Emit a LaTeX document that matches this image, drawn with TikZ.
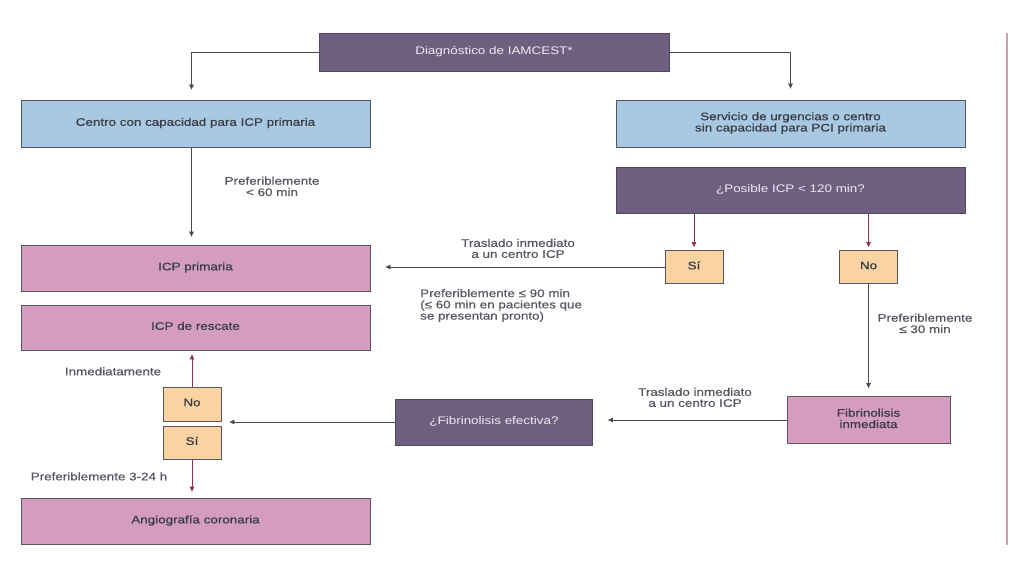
\documentclass[tikz,border=0pt]{standalone}
\usepackage{fontspec}
\setmainfont{Liberation Sans}
\newfontfamily\bfk[FakeBold=0.6]{Liberation Sans}
\usepackage{graphicx}
\usetikzlibrary{arrows.meta,calc}
\definecolor{purp}{HTML}{6E5F80}
\definecolor{lblue}{HTML}{A9C9E2}
\definecolor{pinkb}{HTML}{D49CBE}
\definecolor{beige}{HTML}{F9D3A2}
\definecolor{bord}{HTML}{5A5560}
\definecolor{txt}{HTML}{3A3D48}
\definecolor{redl}{HTML}{8E3358}
\definecolor{connc}{HTML}{4A4A4A}
\definecolor{vlinec}{HTML}{C9A3AB}
\newcommand{\wt}[1]{\scalebox{1.22}[1]{\begin{tabular}{@{}c@{}}#1\end{tabular}}}
\newcommand{\wl}[1]{\scalebox{1.22}[1]{\begin{tabular}{@{}l@{}}#1\end{tabular}}}
\tikzset{
  basebox/.style={draw=bord, line width=0.8pt, inner sep=0pt, font=\bfk\fontsize{11}{11}\selectfont, text=txt},
  pbox/.style={basebox, fill=purp, draw=purp!75!black, text=white!88!purp, font=\rmfamily\fontsize{11}{11}\selectfont},
  bbox/.style={basebox, fill=lblue},
  kbox/.style={basebox, fill=pinkb},
  ybox/.style={basebox, fill=beige, minimum width=58pt, minimum height=33pt},
  wide/.style={minimum width=349pt, minimum height=46pt},
  conn/.style={draw=connc, line width=0.7pt, -{Triangle[length=5pt,width=4.5pt]}},
  rconn/.style={draw=redl, line width=0.8pt, -{Triangle[length=5pt,width=4.5pt]}},
  lab/.style={inner sep=0pt, font=\bfk\fontsize{11}{11}\selectfont, text=txt!85!white}
}
\begin{document}
\begin{tikzpicture}[x=1pt,y=-1pt]
\useasboundingbox[fill=white] (0,0) rectangle (1024,576);

% boxes
\node[pbox, minimum width=350pt, minimum height=38pt] (diag) at (494,52) {\wt{Diagnóstico de IAMCEST*}};
\node[bbox, wide, minimum height=47pt] (centro) at (195.5,123.5) {\wt{Centro con capacidad para ICP primaria}};
\node[bbox, wide, minimum height=47pt] (serv) at (790.5,123.5) {\wt{Servicio de urgencias o centro\\sin capacidad para PCI primaria}};
\node[pbox, wide] (posible) at (790.5,190) {\wt{¿Posible ICP < 120 min?}};
\node[kbox, wide] (icpp) at (195.5,268) {\wt{ICP primaria}};
\node[kbox, wide, minimum height=45pt] (resc) at (195.5,327.5) {\wt{ICP de rescate}};
\node[ybox] (si1) at (694,267) {\wt{Sí}};
\node[ybox] (no1) at (868.5,267) {\wt{No}};
\node[kbox, minimum width=163pt, minimum height=47pt] (fibi) at (868.5,420) {\wt{Fibrinolisis\\inmediata}};
\node[pbox, minimum width=197pt, minimum height=46pt] (fibe) at (494,422) {\wt{¿Fibrinolisis efectiva?}};
\node[ybox, minimum height=34pt] (no2) at (192,404) {\wt{No}};
\node[ybox] (si2) at (192,442.5) {\wt{Sí}};
\node[kbox, wide] (angio) at (195.5,521) {\wt{Angiografía coronaria}};

% connectors
\draw[conn, shorten >=10pt] (diag.west) -| ($(centro.north)+(-4,0)$);
\draw[conn, shorten >=11pt] (diag.east) -| (serv.north);
\draw[conn, shorten >=8pt] ($(centro.south)+(-4,0)$) -- ($(icpp.north)+(-4,0)$);
\draw[rconn, shorten >=3pt] (posible.south -| si1.north) -- (si1.north);
\draw[rconn, shorten >=3pt] (posible.south -| no1.north) -- (no1.north);
\draw[conn, shorten >=15pt] (si1.west) -- (si1.west -| icpp.east);
\draw[conn, shorten >=8pt] (no1.south) -- (fibi.north);
\draw[conn, shorten >=15pt] (fibi.west) -- (fibi.west -| fibe.east);
\draw[conn, shorten >=8pt] (fibe.west) -- (fibe.west -| no2.east);
\draw[rconn, shorten >=4pt] (no2.north) -- (no2.north |- resc.south);
\draw[rconn, shorten >=6pt] (si2.south) -- (si2.south |- angio.north);

% labels
\node[lab] (l60) at (272,188) {\wt{Preferiblemente\\< 60 min}};
\node[lab] (ltr1) at (518,250) {\wt{Traslado inmediato\\a un centro ICP}};
\node[lab, anchor=west] (l90) at (420,306) {\wl{Preferiblemente ≤ 90 min\\(≤ 60 min en pacientes que\\se presentan pronto)}};
\node[lab] (l30) at (925,325) {\wt{Preferiblemente\\≤ 30 min}};
\node[lab] (ltr2) at (695,399) {\wt{Traslado inmediato\\a un centro ICP}};
\node[lab] (linm) at (113,373) {\wt{Inmediatamente}};
\node[lab] (l324) at (99,478) {\wt{Preferiblemente 3-24 h}};

% side rule
\draw[vlinec, line width=1.3pt] (1007,33) -- (1007,545);
\end{tikzpicture}
\end{document}
